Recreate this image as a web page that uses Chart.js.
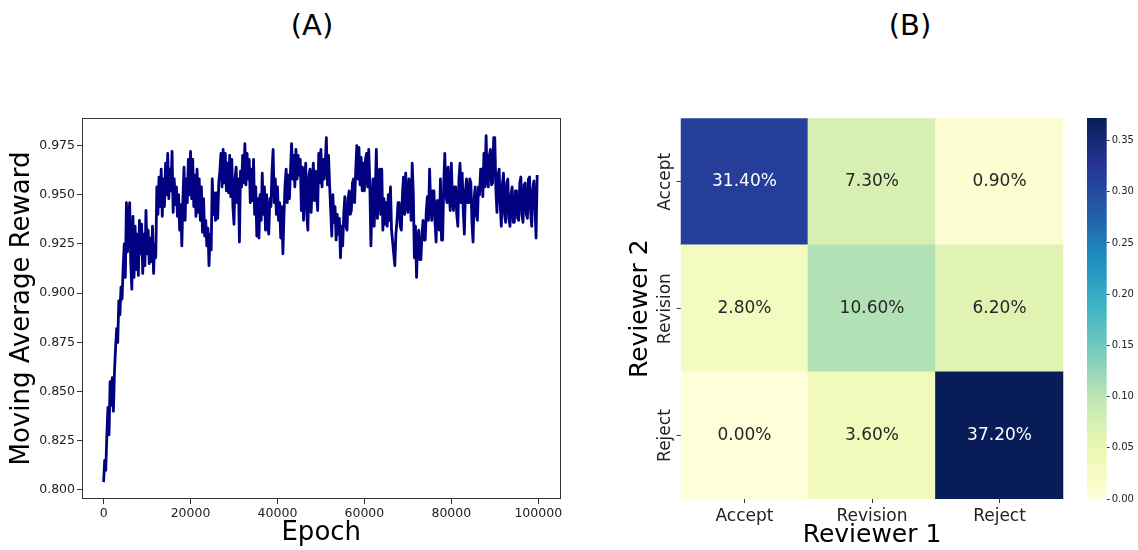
<!DOCTYPE html>
<html>
<head>
<meta charset="utf-8">
<script src="https://cdn.jsdelivr.net/npm/chart.js@4.4.1/dist/chart.umd.min.js"></script>
<style>
  body { margin: 0; background: #fff; width: 1138px; height: 550px; position: relative; overflow: hidden; font-family: 'DejaVu Sans', sans-serif; }
  .panel-title { position: absolute; top: 8px; width: 100px; font-size: 29px; line-height: 34px; text-align: center; color: #000; }
  canvas { position: absolute; }
</style>
</head>
<body>
<div class="panel-title" style="left:262px">(A)</div>
<div class="panel-title" style="left:860px">(B)</div>
<canvas id="reward-chart" width="580" height="450" style="left:0;top:100px"></canvas>
<canvas id="heatmap-chart" width="470" height="450" style="left:600px;top:100px"></canvas>
<canvas id="colorbar-chart" width="68" height="450" style="left:1070px;top:100px"></canvas>
<script>
// Moving average reward, one reading every 250 epochs, 8 per row = 2000 epochs
const EPOCH_STEP = 250;
const REWARD = [
  0.804, 0.815, 0.810, 0.828, 0.842, 0.828, 0.855, 0.843,
  0.857, 0.840, 0.860, 0.872, 0.882, 0.875, 0.896, 0.889,
  0.903, 0.897, 0.913, 0.925, 0.908, 0.946, 0.921, 0.937,
  0.946, 0.915, 0.902, 0.939, 0.908, 0.934, 0.912, 0.930,
  0.909, 0.937, 0.920, 0.935, 0.910, 0.930, 0.914, 0.942,
  0.920, 0.932, 0.915, 0.928, 0.916, 0.934, 0.910, 0.925,
  0.918, 0.954, 0.940, 0.959, 0.944, 0.963, 0.939, 0.958,
  0.944, 0.966, 0.950, 0.971, 0.948, 0.963, 0.952, 0.972,
  0.941, 0.958, 0.945, 0.954, 0.939, 0.950, 0.932, 0.945,
  0.924, 0.948, 0.964, 0.937, 0.958, 0.946, 0.968, 0.950,
  0.972, 0.948, 0.968, 0.944, 0.960, 0.939, 0.963, 0.941,
  0.958, 0.937, 0.954, 0.931, 0.948, 0.929, 0.937, 0.924,
  0.933, 0.914, 0.930, 0.922, 0.958, 0.940, 0.951, 0.937,
  0.951, 0.938, 0.956, 0.962, 0.971, 0.954, 0.973, 0.956,
  0.971, 0.952, 0.966, 0.951, 0.970, 0.949, 0.968, 0.944,
  0.935, 0.958, 0.964, 0.946, 0.958, 0.926, 0.962, 0.954,
  0.970, 0.956, 0.976, 0.955, 0.971, 0.958, 0.968, 0.946,
  0.963, 0.947, 0.968, 0.940, 0.954, 0.929, 0.948, 0.928,
  0.950, 0.937, 0.961, 0.940, 0.954, 0.932, 0.950, 0.935,
  0.930, 0.948, 0.944, 0.962, 0.973, 0.946, 0.958, 0.940,
  0.954, 0.937, 0.946, 0.928, 0.944, 0.920, 0.940, 0.955,
  0.963, 0.946, 0.960, 0.948, 0.962, 0.976, 0.958, 0.970,
  0.954, 0.973, 0.958, 0.970, 0.960, 0.968, 0.942, 0.964,
  0.937, 0.958, 0.966, 0.940, 0.932, 0.960, 0.963, 0.941,
  0.955, 0.966, 0.947, 0.962, 0.950, 0.942, 0.971, 0.956,
  0.973, 0.954, 0.968, 0.958, 0.966, 0.979, 0.955, 0.970,
  0.955, 0.942, 0.929, 0.950, 0.936, 0.944, 0.927, 0.940,
  0.930, 0.938, 0.918, 0.934, 0.924, 0.940, 0.949, 0.934,
  0.932, 0.948, 0.952, 0.940, 0.942, 0.956, 0.958, 0.946,
  0.962, 0.975, 0.958, 0.974, 0.955, 0.969, 0.952, 0.966,
  0.952, 0.968, 0.971, 0.954, 0.973, 0.956, 0.924, 0.946,
  0.958, 0.934, 0.950, 0.973, 0.938, 0.956, 0.963, 0.940,
  0.963, 0.932, 0.948, 0.935, 0.946, 0.934, 0.950, 0.937,
  0.954, 0.932, 0.926, 0.920, 0.914, 0.930, 0.937, 0.946,
  0.946, 0.934, 0.932, 0.950, 0.959, 0.940, 0.961, 0.946,
  0.941, 0.958, 0.954, 0.937, 0.966, 0.951, 0.918, 0.934,
  0.908, 0.926, 0.932, 0.917, 0.917, 0.930, 0.937, 0.927,
  0.927, 0.942, 0.949, 0.937, 0.963, 0.945, 0.937, 0.952,
  0.952, 0.936, 0.926, 0.947, 0.947, 0.932, 0.958, 0.927,
  0.927, 0.955, 0.971, 0.950, 0.946, 0.964, 0.951, 0.942,
  0.966, 0.948, 0.942, 0.954, 0.954, 0.940, 0.934, 0.958,
  0.966, 0.946, 0.961, 0.942, 0.930, 0.952, 0.958, 0.946,
  0.946, 0.958, 0.956, 0.936, 0.926, 0.948, 0.954, 0.940,
  0.937, 0.954, 0.950, 0.963, 0.963, 0.949, 0.971, 0.954,
  0.980, 0.958, 0.954, 0.970, 0.973, 0.955, 0.956, 0.979,
  0.979, 0.953, 0.941, 0.960, 0.963, 0.945, 0.934, 0.955,
  0.961, 0.940, 0.936, 0.956, 0.958, 0.938, 0.934, 0.950,
  0.954, 0.936, 0.936, 0.952, 0.952, 0.938, 0.937, 0.956,
  0.959, 0.940, 0.936, 0.955, 0.956, 0.940, 0.938, 0.958,
  0.959, 0.941, 0.934, 0.953, 0.957, 0.944, 0.928, 0.960
];
const EPOCH_TICKS = [0, 20000, 40000, 60000, 80000, 100000];
const REWARD_TICKS = [0.800, 0.825, 0.850, 0.875, 0.900, 0.925, 0.950, 0.975];

// Reviewer agreement matrix, % (rows: Reviewer 2, columns: Reviewer 1)
const DECISIONS = ['Accept', 'Revision', 'Reject'];
const AGREEMENT = [
  [31.40, 7.30, 0.90],
  [2.80, 10.60, 6.20],
  [0.00, 3.60, 37.20]
];
const COLOR_MAX = 0.372;
const COLORBAR_TICKS = [0.00, 0.05, 0.10, 0.15, 0.20, 0.25, 0.30, 0.35];
const YLGNBU = ['#ffffd9', '#edf8b1', '#c7e9b4', '#7fcdbb', '#41b6c4', '#1d91c0', '#225ea8', '#253494', '#081d58'];

Chart.defaults.font.family = "'DejaVu Sans', sans-serif";
Chart.defaults.color = '#222';

function hexToRgb(hex) {
  const n = parseInt(hex.slice(1), 16);
  return [(n >> 16) & 255, (n >> 8) & 255, n & 255];
}

// matplotlib-style YlGnBu lookup, t in [0, 1]
function ylgnbu(t) {
  t = Math.max(0, Math.min(1, t)) * (YLGNBU.length - 1);
  const i = Math.min(Math.floor(t), YLGNBU.length - 2);
  const f = t - i;
  const a = hexToRgb(YLGNBU[i]);
  const b = hexToRgb(YLGNBU[i + 1]);
  const c = a.map((v, k) => Math.round(v + (b[k] - v) * f));
  return `rgb(${c[0]}, ${c[1]}, ${c[2]})`;
}

const tickGrid = (len) => ({ drawOnChartArea: false, drawTicks: true, tickLength: len, color: '#333' });

// Box around the plot area like matplotlib spines
const frameBox = {
  id: 'frameBox',
  afterDatasetsDraw(chart) {
    const { ctx, chartArea: a } = chart;
    ctx.save();
    ctx.strokeStyle = '#333';
    ctx.lineWidth = 1;
    ctx.strokeRect(Math.round(a.left) + 0.5, Math.round(a.top) + 0.5, Math.round(a.width) - 1, Math.round(a.height) - 1);
    ctx.restore();
  }
};

function createRewardChart() {
  const ctx = document.getElementById('reward-chart').getContext('2d');
  new Chart(ctx, {
    type: 'line',
    data: {
      datasets: [{
        data: REWARD.map((r, i) => ({ x: i * EPOCH_STEP, y: r })),
        borderColor: '#000080',
        borderWidth: 2.8,
        borderJoinStyle: 'round',
        pointRadius: 0,
        tension: 0,
        fill: false
      }]
    },
    options: {
      responsive: false,
      animation: false,
      layout: { padding: { top: 18, right: 19.5, left: 0, bottom: 0 } },
      plugins: { legend: { display: false }, tooltip: { enabled: false } },
      scales: {
        x: {
          type: 'linear',
          min: -4970,
          max: 105120,
          afterBuildTicks: s => { s.ticks = EPOCH_TICKS.map(v => ({ value: v })); },
          afterFit: s => { s.height = 51; },
          grid: tickGrid(5),
          border: { display: false },
          ticks: { font: { size: 12.5 }, padding: 2, maxRotation: 0, autoSkip: false, callback: v => String(v) },
          title: { display: true, text: 'Epoch', color: '#000', font: { size: 26 }, padding: { top: 0, bottom: 1.5 } }
        },
        y: {
          min: 0.7954,
          max: 0.989,
          afterBuildTicks: s => { s.ticks = REWARD_TICKS.map(v => ({ value: v })); },
          afterFit: s => { s.width = 82; },
          grid: tickGrid(5),
          border: { display: false },
          ticks: { font: { size: 12.5 }, padding: 2, autoSkip: false, callback: v => v.toFixed(3) },
          title: { display: true, text: 'Moving Average Reward', color: '#000', font: { size: 26 }, padding: { top: 7 } }
        }
      }
    },
    plugins: [frameBox]
  });
}

// Cell annotations and rotated row labels for the heatmap
const heatmapText = {
  id: 'heatmapText',
  afterDatasetsDraw(chart) {
    const { ctx, chartArea } = chart;
    ctx.save();
    ctx.textAlign = 'center';
    ctx.textBaseline = 'middle';
    ctx.font = "17px 'DejaVu Sans', sans-serif";
    chart.data.datasets.forEach((ds, i) => {
      chart.getDatasetMeta(i).data.forEach((bar, j) => {
        const v = ds.pct[j];
        ctx.fillStyle = v / 100 / COLOR_MAX > 0.6 ? '#ffffff' : '#262626';
        ctx.fillText(v.toFixed(2) + '%', bar.x, (bar.y + bar.base) / 2);
      });
    });
    const yScale = chart.scales.y;
    ctx.fillStyle = '#222';
    DECISIONS.forEach((label, r) => {
      const y = yScale.getPixelForValue(DECISIONS.length - r - 0.5);
      ctx.save();
      ctx.translate(chartArea.left - 15.5, y);
      ctx.rotate(-Math.PI / 2);
      ctx.fillText(label, 0, 0);
      ctx.restore();
    });
    ctx.restore();
  }
};

function createHeatmap() {
  const ctx = document.getElementById('heatmap-chart').getContext('2d');
  // bottom row first so the stack reads Accept at the top
  const rows = AGREEMENT.map((row, r) => ({ row, r })).reverse();
  new Chart(ctx, {
    type: 'bar',
    data: {
      labels: DECISIONS,
      datasets: rows.map(({ row, r }) => ({
        label: DECISIONS[r],
        data: row.map(() => 1),
        pct: row,
        backgroundColor: row.map(v => ylgnbu(v / 100 / COLOR_MAX)),
        borderWidth: 0,
        inflateAmount: 0.6,
        barPercentage: 1,
        categoryPercentage: 1
      }))
    },
    options: {
      responsive: false,
      animation: false,
      layout: { padding: { top: 18.3, right: 6.7, left: 0, bottom: 0 } },
      plugins: { legend: { display: false }, tooltip: { enabled: false } },
      scales: {
        x: {
          stacked: true,
          afterFit: s => { s.height = 51; },
          grid: Object.assign(tickGrid(4), { offset: false }),
          border: { display: false },
          ticks: { font: { size: 17 }, padding: 3, color: '#222' },
          title: { display: true, text: 'Reviewer 1', color: '#000', font: { size: 25 }, padding: { top: 0, bottom: 0 } }
        },
        y: {
          stacked: true,
          min: 0,
          max: 3,
          afterBuildTicks: s => { s.ticks = [0.5, 1.5, 2.5].map(v => ({ value: v })); },
          afterFit: s => { s.width = 80.7; },
          grid: tickGrid(4),
          border: { display: false },
          ticks: { display: false },
          title: { display: true, text: 'Reviewer 2', color: '#000', font: { size: 25 }, padding: { top: 25 } }
        }
      }
    },
    plugins: [heatmapText]
  });
}

function createColorbar() {
  const ctx = document.getElementById('colorbar-chart').getContext('2d');
  new Chart(ctx, {
    type: 'bar',
    data: {
      labels: [''],
      datasets: [{
        data: [[0, COLOR_MAX]],
        backgroundColor: (c) => {
          const area = c.chart.chartArea;
          if (!area) return YLGNBU[0];
          const g = c.chart.ctx.createLinearGradient(0, area.bottom, 0, area.top);
          YLGNBU.forEach((col, i) => g.addColorStop(i / (YLGNBU.length - 1), col));
          return g;
        },
        borderWidth: 0,
        barPercentage: 1,
        categoryPercentage: 1
      }]
    },
    options: {
      responsive: false,
      animation: false,
      layout: { padding: { top: 18, right: 0, left: 17, bottom: 51 } },
      plugins: { legend: { display: false }, tooltip: { enabled: false } },
      scales: {
        x: { display: false },
        y: {
          position: 'right',
          min: 0,
          max: COLOR_MAX,
          afterBuildTicks: s => { s.ticks = COLORBAR_TICKS.map(v => ({ value: v })); },
          afterFit: s => { s.width = 31.3; },
          grid: tickGrid(3),
          border: { display: false },
          ticks: { font: { size: 10 }, padding: 2, autoSkip: false, callback: v => v.toFixed(2) }
        }
      }
    }
  });
}

createRewardChart();
createHeatmap();
createColorbar();
</script>
</body>
</html>
